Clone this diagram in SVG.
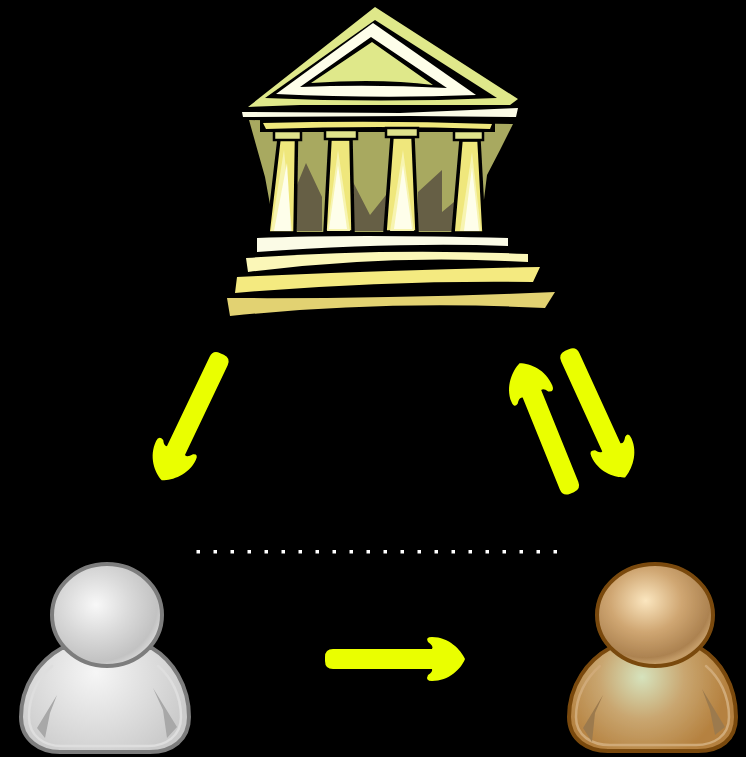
<svg xmlns="http://www.w3.org/2000/svg" xmlns:xlink="http://www.w3.org/1999/xlink" width="746" height="757" viewBox="0 0 746 757">
<style>
.arrow{fill:#eaff00}
.dots{stroke:#fff;stroke-width:3.5;stroke-dasharray:3.5 13.5;fill:none}
.col{fill:#efe77c;stroke:#000;stroke-width:3.500;stroke-linejoin:round}
.cap{fill:#dfe28c;stroke:#000;stroke-width:2.500}
.hi{fill:#fefeea}
.mid{fill:#f7f4b0}
.gh{stroke:#7d7d7d;stroke-width:4}
.bh{stroke:#7a4a0e;stroke-width:4}
.grim{fill:none;stroke:#dedede;stroke-width:2.500;stroke-linecap:round}
.brim{fill:none;stroke:#d0aa78;stroke-width:2.500;stroke-linecap:round}
.soft{filter:url(#soft)}
</style>
<defs>
<filter id="soft" x="-5%" y="-5%" width="110%" height="110%"><feGaussianBlur stdDeviation="0.6"/></filter>
<path id="arw" d="M8,-10H107Q109,-13 103,-17Q100,-22 107,-22C124,-22 136,-9 140,0C136,10 124,22 107,22Q100,22 103,16Q108,13 107,10H8Q0,10 0,2V-2Q0,-10 8,-10Z"/>
<radialGradient id="gHead" cx="0.4" cy="0.4" r="0.62"><stop offset="0" stop-color="#f8f8f8"/><stop offset="0.5" stop-color="#d9d9d9"/><stop offset="0.9" stop-color="#c2c2c2"/><stop offset="1" stop-color="#d4d4d4"/></radialGradient>
<radialGradient id="gBody" gradientUnits="userSpaceOnUse" cx="96" cy="672" r="95"><stop offset="0" stop-color="#f6f6f6"/><stop offset="1" stop-color="#cbcbcb"/></radialGradient>
<radialGradient id="bHead" cx="0.42" cy="0.36" r="0.62"><stop offset="0" stop-color="#fbe6bf"/><stop offset="0.5" stop-color="#cfa672"/><stop offset="0.9" stop-color="#ac8250"/><stop offset="1" stop-color="#c49c68"/></radialGradient>
<radialGradient id="bBody" gradientUnits="userSpaceOnUse" cx="642" cy="677" r="85"><stop offset="0" stop-color="#d6e3bd"/><stop offset="0.5" stop-color="#c9a670"/><stop offset="1" stop-color="#b5813f"/></radialGradient>
</defs>
<rect width="746" height="757" fill="#000"/>
<g id="temple" class="soft">
<path d="M249,120L513,124L500,150L487,175L480,232H275L265,177Z" fill="#a8a960"/>
<path d="M297,231V185L306,163L322,197V231ZM353,231V182L370,215L386,195V231ZM418,231V192L442,170V212L454,202V231Z" fill="#665f45"/>
<path d="M248,107L375,7L518,99L510,105Q400,105 300,105Z" fill="#dfe88a"/>
<path d="M265,98L375,20L497,98Q380,103 265,98Z" fill="#000"/>
<path d="M276,94L373,23L476,95Q380,99 276,94Z" fill="#fefeea"/>
<path d="M300,87L371,37L447,88Q370,84 300,87Z" fill="#000"/>
<path d="M311,83L372,42L433,85Q380,78 311,83Z" fill="#dfe88a"/>
<path d="M242,112L400,113L518,108L516,117L410,116L243,117Z" fill="#fbfbe6"/>
<path d="M260,120H495V132H260Z" fill="#000"/>
<path d="M263,123Q380,120 492,124L490,129Q380,125 266,129Z" fill="#efe77c"/>
<g id="column-1"><path class="col" d="M279,139H296.500L295,233H268Z"/><path class="mid" d="M284,150L292,231H271Z"/><path class="hi" d="M287,163L291,231H274Z"/><rect class="cap" x="274" y="131" width="27" height="9"/></g>
<g id="column-2"><path class="col" d="M330,139H351L353,232H325Z"/><path class="mid" d="M338,150L350,231H327Z"/><path class="hi" d="M338,165L347,229H329Z"/><rect class="cap" x="325" y="130" width="32" height="9"/></g>
<g id="column-3"><path class="col" d="M392,137H413L417,232H385Z"/><path class="mid" d="M403,150L414,231H390Z"/><path class="hi" d="M403,165L412,229H394Z"/><rect class="cap" x="386" y="128" width="32" height="9"/></g>
<g id="column-4"><path class="col" d="M461,140H479L484,233H453Z"/><path class="mid" d="M472,152L481,231H460Z"/><path class="hi" d="M472,167L479,231H464Z"/><rect class="cap" x="454" y="131" width="29" height="9"/></g>
<path d="M257,238Q353,234 508,238V246Q400,242 257,252Z" fill="#fbfbe6"/>
<path d="M246,258Q387,248 528,254V262Q387,254 248,272Z" fill="#fbf7b8"/>
<path d="M237,277Q387,270 540,267L533,282Q387,280 235,293Z" fill="#f4ea80"/>
<path d="M227,298Q387,299 555,292L545,308Q387,300 230,316Z" fill="#e2d272"/>
</g>
<g id="person-left" class="soft">
<path class="gh" fill="url(#gBody)" d="M62,648C40,660 21,685 21,717C21,740 40,752 60,752H150C172,752 189,740 189,717C189,685 172,660 152,648Z"/>
<path class="grim" d="M52,666C38,678 29,696 29,717C29,736 44,746 62,746H148C166,746 181,736 181,717C181,696 172,678 158,666"/>
<path d="M57,695L37,728L45,738L50,713Z M153,688L177,727L167,738L163,710Z" fill="#a8a8a8"/>
<ellipse class="gh" cx="107" cy="615" rx="55" ry="51" fill="url(#gHead)"/>
</g>
<g id="person-right" class="soft">
<path class="bh" fill="url(#bBody)" d="M610,648C588,660 569,685 569,717C569,740 588,751 608,751H698C720,751 736,740 736,717C736,685 720,660 700,648Z"/>
<path class="brim" d="M600,666C586,678 576,696 576,717C576,736 592,745 610,745H696C714,745 729,736 729,717C729,696 720,678 706,666"/>
<path d="M603,695L583,728L592,742L595,713Z M702,689L725,727L715,735L710,710Z" fill="#9c7a4e"/>
<ellipse class="bh" cx="655" cy="615" rx="58" ry="51" fill="url(#bHead)"/>
</g>
<g id="connectors" class="soft">
<use xlink:href="#arw" href="#arw" class="arrow" transform="translate(222,354) rotate(115.500)"/>
<use xlink:href="#arw" href="#arw" class="arrow" transform="translate(572,493) rotate(-112)"/>
<use xlink:href="#arw" href="#arw" class="arrow" transform="translate(567,350) rotate(65.500)"/>
<use xlink:href="#arw" href="#arw" class="arrow" transform="translate(325,659)"/>
<path class="dots" d="M196.500,551.700H560"/>
</g>
</svg>
